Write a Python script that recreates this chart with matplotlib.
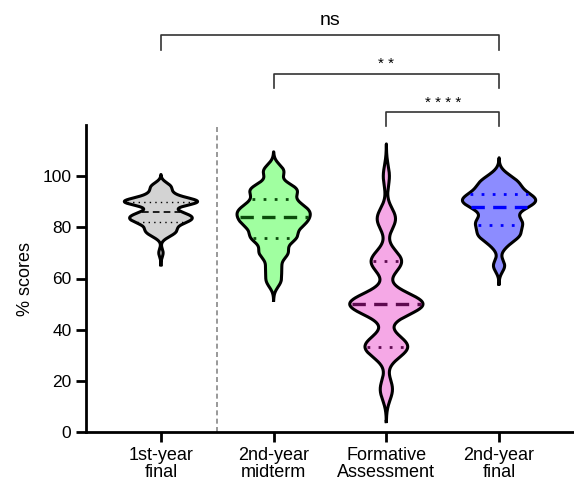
import numpy as np
import matplotlib.pyplot as plt

plt.rcParams['font.family'] = ['Liberation Sans', 'DejaVu Sans']

groups = ['1st-year\nfinal', '2nd-year\nmidterm', 'Formative\nAssessment', '2nd-year\nfinal']

# scores (value, count) per group
g1_scores = [70, 77, 79, 82, 84, 86, 90, 93, 96]
g1_counts = [1, 3, 5, 7, 9, 5, 16, 4, 4]
g2_scores = [59, 64, 70, 76, 81, 84, 86, 88, 91, 95, 102]
g2_counts = [2, 2, 4, 6, 6, 4, 4, 4, 3, 6, 3]
g3_scores = [16.67, 33.33, 50, 66.67, 83.33, 100]
g3_counts = [2, 7, 12, 5, 3, 1]
g4_scores = [65, 73, 77, 81, 82, 86, 88, 90, 93, 97, 100]
g4_counts = [2, 2, 6, 2, 5, 3, 2, 8, 6, 5, 2]

bandwidths = [1.55, 2.5, 4.2, 2.4]
fills = ['#d3d3d3', '#a0ffa0', '#f5a8e6', '#8c8cff']
line_cols = ['#000000', '#0b4d0b', '#5e0a50', '#0000ff']
line_w = [1.0, 2.0, 2.0, 2.0]

# comparisons: (left, right, bracket height, label)
comparisons = [(1, 4, 155, 'ns'), (2, 4, 140, '* *'), (3, 4, 125, '* * * *')]

samples = [np.repeat(g1_scores, g1_counts), np.repeat(g2_scores, g2_counts),
           np.repeat(g3_scores, g3_counts), np.repeat(g4_scores, g4_counts)]

fig = plt.figure(figsize=(5.74, 4.84), dpi=100)
ax = fig.add_axes([86 / 574, 52 / 484, 488 / 574, 307 / 484])

half = 0.325
for i, data in enumerate(samples):
    pos = i + 1
    h = bandwidths[i]
    y = np.linspace(data.min() - 3 * h, data.max() + 3 * h, 600)
    dens = np.exp(-(y[:, None] - data[None, :]) ** 2 / (2 * h * h)).sum(axis=1)
    w = dens / dens.max() * half
    ax.fill_betweenx(y, pos - w, pos + w, facecolor=fills[i], edgecolor='none', zorder=2)
    ax.plot(np.r_[pos - w, (pos + w)[::-1], pos - w[0]], np.r_[y, y[::-1], y[0]],
            color='black', lw=2.2, zorder=3, solid_joinstyle='round')
    q1, med, q3 = np.percentile(data, [25, 50, 75])
    for q, ls in [(q1, (0, (1, 3))), (med, (0, (4, 2.5))), (q3, (0, (1, 3)))]:
        wq = np.interp(q, y, w) - 0.02
        ax.plot([pos - wq, pos + wq], [q, q], color=line_cols[i], lw=line_w[i] * (1.2 if q == med else 1),
                ls=ls, zorder=4)

ax.axvline(1.5, color='#888888', ls=(0, (3, 2)), lw=1.2, zorder=1)

for a, b, yb, lab in comparisons:
    ax.plot([a, a, b, b], [yb - 5.5, yb, yb, yb - 5.5], color='#333333', lw=1.2, clip_on=False)
    if lab == 'ns':
        ax.text((a + b) / 2, yb + 2.5, lab, ha='center', va='bottom', fontsize=14)
    else:
        ax.text((a + b) / 2, yb + 1.0, lab, ha='center', va='bottom', fontsize=11)

ax.set_xlim(0.335, 4.665)
ax.set_ylim(0, 120)
ax.set_yticks([0, 20, 40, 60, 80, 100])
ax.set_xticks([1, 2, 3, 4])
ax.set_xticklabels(groups, fontsize=13, linespacing=1.0)
ax.tick_params(axis='y', labelsize=12.5)
ax.tick_params(axis='both', width=2, length=7)
ax.set_ylabel('% scores', fontsize=13, labelpad=6)
for s in ['top', 'right']:
    ax.spines[s].set_visible(False)
for s in ['left', 'bottom']:
    ax.spines[s].set_linewidth(2)

fig.savefig('out.png', dpi=100)
